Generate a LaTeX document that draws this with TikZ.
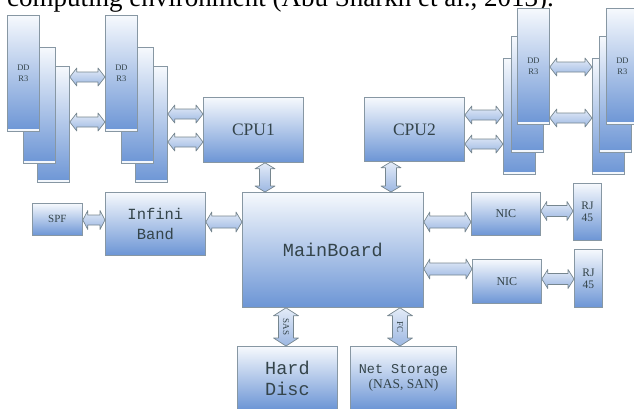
\documentclass[tikz,border=0pt]{standalone}
\usepackage{fontspec}
\setmainfont{Liberation Serif}
\newfontfamily\monofont{Liberation Mono}
\usetikzlibrary{calc}
\definecolor{boxtop}{HTML}{F6F9FD}
\definecolor{boxbot}{HTML}{6C95D5}
\definecolor{boxline}{HTML}{8797A3}
\definecolor{arrtop}{HTML}{E4ECF8}
\definecolor{arrbot}{HTML}{9CB7E2}
\definecolor{arrline}{HTML}{76868F}
\definecolor{txt}{HTML}{34444A}
\tikzset{
  box/.style={draw=boxline, line width=0.8pt, top color=boxtop, bottom color=boxbot,
    anchor=north west, inner sep=0pt, text=txt, align=center},
  ddr/.style={box, minimum width=32pt, minimum height=116pt,
    font=\fontsize{8.5}{11}\selectfont,
    path picture={\fill[white!92!boxbot] (path picture bounding box.south west)
      rectangle ([yshift=2.5pt]path picture bounding box.south east);}},
  arr/.style={draw=arrline, line width=0.7pt, top color=arrtop, bottom color=arrbot, line join=round},
  lbl/.style={text=txt, inner sep=0pt, font=\fontsize{9}{10}\selectfont},
}
% horizontal double block arrow: left point, right point, half head, half shaft, head length
\newcommand\harr[5]{\path[arr] let \p1=(#1), \p2=(#2) in
  (\x1,\y1) -- (\x1+#5,\y1+#3) -- (\x1+#5,\y1+#4) -- (\x2-#5,\y1+#4) -- (\x2-#5,\y1+#3)
  -- (\x2,\y1) -- (\x2-#5,\y1-#3) -- (\x2-#5,\y1-#4) -- (\x1+#5,\y1-#4) -- (\x1+#5,\y1-#3) -- cycle;}
% vertical double block arrow: top point, bottom point, half head, half shaft, head length
\newcommand\varr[5]{\path[arr] let \p1=(#1), \p2=(#2) in
  (\x1,\y1) -- (\x1+#3,\y1-#5) -- (\x1+#4,\y1-#5) -- (\x1+#4,\y2+#5) -- (\x1+#3,\y2+#5)
  -- (\x1,\y2) -- (\x1-#3,\y2+#5) -- (\x1-#4,\y2+#5) -- (\x1-#4,\y1-#5) -- (\x1-#3,\y1-#5) -- cycle;}
\begin{document}
\begin{tikzpicture}[x=1pt,y=-1pt]
\useasboundingbox (0,0) rectangle (634,408);
\node[anchor=base west, inner sep=0pt, font=\fontsize{27}{30}\selectfont] (title) at (7,6)
  {computing environment (Abu Sharkh et al., 2013).};
% DDR3 stacks
\node[ddr] (ddrC) at (37,66) {};
\node[ddr] (ddrB) at (23,47) {};
\node[ddr] (ddrA) at (7,15) {DD\\R3};
\node[ddr] (ddrF) at (135,66) {};
\node[ddr] (ddrE) at (121,47) {};
\node[ddr] (ddrD) at (105,15) {DD\\R3};
\node[ddr] (ddrG) at (503,58) {};
\node[ddr] (ddrH) at (511,36) {};
\node[ddr] (ddrI) at (517,8) {DD\\R3};
\node[ddr] (ddrJ) at (592,58) {};
\node[ddr] (ddrK) at (599,36) {};
\node[ddr] (ddrL) at (606,8) {DD\\R3};
% main boxes
\node[box, minimum width=100pt, minimum height=65pt, font=\fontsize{17.5}{20}\selectfont] (cpu1) at (203,97) {CPU1};
\node[box, minimum width=100pt, minimum height=64pt, font=\fontsize{17.5}{20}\selectfont] (cpu2) at (364,97) {CPU2};
\node[box, minimum width=181pt, minimum height=115pt, font=\monofont\fontsize{18.5}{21}\selectfont] (mb) at (242,192) {MainBoard};
\node[box, minimum width=50pt, minimum height=32pt, font=\fontsize{11}{12}\selectfont] (spf) at (32,203) {SPF};
\node[box, minimum width=100pt, minimum height=63pt, font=\monofont\fontsize{15.5}{20}\selectfont] (ib) at (105,192) {Infini\\Band};
\node[box, minimum width=69pt, minimum height=43pt, font=\fontsize{12}{13}\selectfont] (nic1) at (471,192) {NIC};
\node[box, minimum width=69pt, minimum height=44pt, font=\fontsize{12}{13}\selectfont] (nic2) at (472,259) {NIC};
\node[box, minimum width=28pt, minimum height=57pt, font=\fontsize{11.5}{12}\selectfont] (rj1) at (573,183) {RJ\\45};
\node[box, minimum width=28pt, minimum height=58pt, font=\fontsize{11.5}{12}\selectfont] (rj2) at (574,249) {RJ\\45};
\node[box, minimum width=100pt, minimum height=63pt, font=\monofont\fontsize{18.5}{21}\selectfont] (hd) at (237,346) {Hard\\Disc};
\node[box, minimum width=106pt, minimum height=63pt, font=\fontsize{13.5}{15.5}\selectfont] (ns) at (350,346) {{\monofont Net Storage}\\(NAS, SAN)};
% arrows
\harr{ddrC.east |- 0,77}{ddrD.west |- 0,77}{9pt}{5pt}{7pt}
\harr{ddrC.east |- 0,122}{ddrD.west |- 0,122}{9pt}{5pt}{7pt}
\harr{ddrF.east |- 0,114}{cpu1.west |- 0,114}{9pt}{5pt}{7pt}
\harr{ddrF.east |- 0,142}{cpu1.west |- 0,142}{9pt}{5pt}{7pt}
\harr{cpu2.east |- 0,115}{ddrG.west |- 0,115}{9pt}{5pt}{7pt}
\harr{cpu2.east |- 0,144}{ddrG.west |- 0,144}{9pt}{5pt}{7pt}
\harr{ddrI.east |- 0,67}{ddrJ.west |- 0,67}{9pt}{5pt}{7pt}
\harr{ddrI.east |- 0,118}{ddrJ.west |- 0,118}{9pt}{5pt}{7pt}
\harr{spf.east |- 0,220}{ib.west |- 0,220}{9.5pt}{5pt}{5pt}
\harr{ib.east |- 0,222}{mb.west |- 0,222}{10pt}{6pt}{6pt}
\harr{mb.east |- 0,222}{nic1.west |- 0,222}{10pt}{6pt}{6pt}
\harr{mb.east |- 0,269}{nic2.west |- 0,269}{10pt}{6pt}{6pt}
\harr{nic1.east |- 0,211}{rj1.west |- 0,211}{9.5pt}{5.5pt}{6pt}
\harr{nic2.east |- 0,279}{rj2.west |- 0,279}{9.5pt}{5.5pt}{6pt}
\varr{cpu1.south -| 265,0}{mb.north -| 265,0}{10pt}{5.5pt}{6pt}
\varr{cpu2.south -| 391,0}{mb.north -| 391,0}{10pt}{5.5pt}{6pt}
\varr{mb.south -| 286,0}{hd.north -| 286,0}{12.5pt}{7.5pt}{8pt}
\varr{mb.south -| 400,0}{ns.north -| 400,0}{12.5pt}{7.5pt}{8pt}
\node[lbl, rotate=-90] (sas) at ($(mb.south -| 286,0)!0.5!(hd.north -| 286,0)$) {SAS};
\node[lbl, rotate=-90] (fc) at ($(mb.south -| 400,0)!0.5!(ns.north -| 400,0)$) {FC};
\end{tikzpicture}
\end{document}
